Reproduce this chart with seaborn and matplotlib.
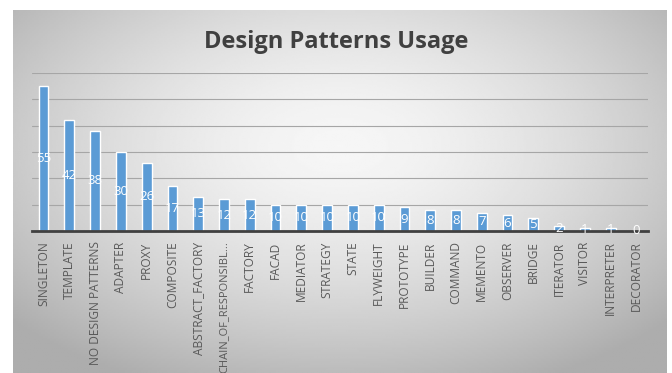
import matplotlib
matplotlib.use("Agg")
import matplotlib.pyplot as plt
import numpy as np
import pandas as pd
import seaborn as sns

patterns = ["SINGLETON", "TEMPLATE", "NO DESIGN PATTERNS", "ADAPTER", "PROXY",
            "COMPOSITE", "ABSTRACT_FACTORY", "CHAIN_OF_RESPONSIBL...", "FACTORY",
            "FACAD", "MEDIATOR", "STRATEGY", "STATE", "FLYWEIGHT", "PROTOTYPE",
            "BUILDER", "COMMAND", "MEMENTO", "OBSERVER", "BRIDGE", "ITERATOR",
            "VISITOR", "INTERPRETER", "DECORATOR"]
usage = [55, 42, 38, 30, 26, 17, 13, 12, 12, 10, 10, 10, 10, 10, 9,
         8, 8, 7, 6, 5, 2, 1, 1, 0]

df = pd.DataFrame({"pattern": patterns, "usage": usage})

sns.set_style("white")
plt.rcParams["font.family"] = ["Open Sans", "DejaVu Sans"]

fig = plt.figure(figsize=(6.72, 3.73), dpi=100)
fig.patch.set_facecolor("white")

# gradient background panel like the Excel chart area
bg = fig.add_axes([13 / 672, 0, 654 / 672, 363 / 373], zorder=0)
yy, xx = np.mgrid[-1:1:200j, -1:1:360j]
r = np.sqrt((xx * 0.95) ** 2 + ((yy + 0.25) * 0.9) ** 2)
shade = 0.965 - 0.19 * np.clip(r, 0, 1.3) ** 1.6
bg.imshow(shade, cmap="gray", vmin=0, vmax=1, aspect="auto",
          extent=[0, 1, 0, 1], interpolation="bilinear")
bg.set_axis_off()

n = len(patterns)
ax = fig.add_axes([32 / 672, 142 / 373, 616 / 672, 158 / 373], zorder=1)
ax.patch.set_alpha(0)
sns.barplot(data=df, x="pattern", y="usage", color="#5b9bd5", width=0.38,
            saturation=1, ax=ax)
ax.bar_label(ax.containers[0], label_type="center", color="white",
             fontsize=9.5)

ax.set_ylim(0, 60)
ax.set_yticks(np.arange(0, 61, 10))
ax.yaxis.grid(True, color="#a6a6a6", linewidth=0.8)
ax.set_axisbelow(True)
ax.tick_params(axis="y", left=False, labelleft=False)
ax.tick_params(axis="x", bottom=False, pad=4)
ax.set_xticks(range(n))
ax.set_xticklabels(patterns, rotation=90, fontsize=8.6, color="#595959")
# the long truncated label is set a little smaller so it fits like the original
for lbl in ax.get_xticklabels():
    if lbl.get_text().startswith("CHAIN"):
        lbl.set_fontsize(8.0)
ax.set_xlabel("")
ax.set_ylabel("")
ax.set_xlim(-0.45, n - 0.55)
for side in ["top", "right", "left"]:
    ax.spines[side].set_visible(False)
ax.spines["bottom"].set_color("#404040")
ax.spines["bottom"].set_linewidth(2)

fig.text(0.5, 1 - 48 / 373, "Design Patterns Usage", ha="center",
         va="baseline", fontsize=17, fontweight="bold", color="#404040")

fig.savefig("out.png", dpi=100)
